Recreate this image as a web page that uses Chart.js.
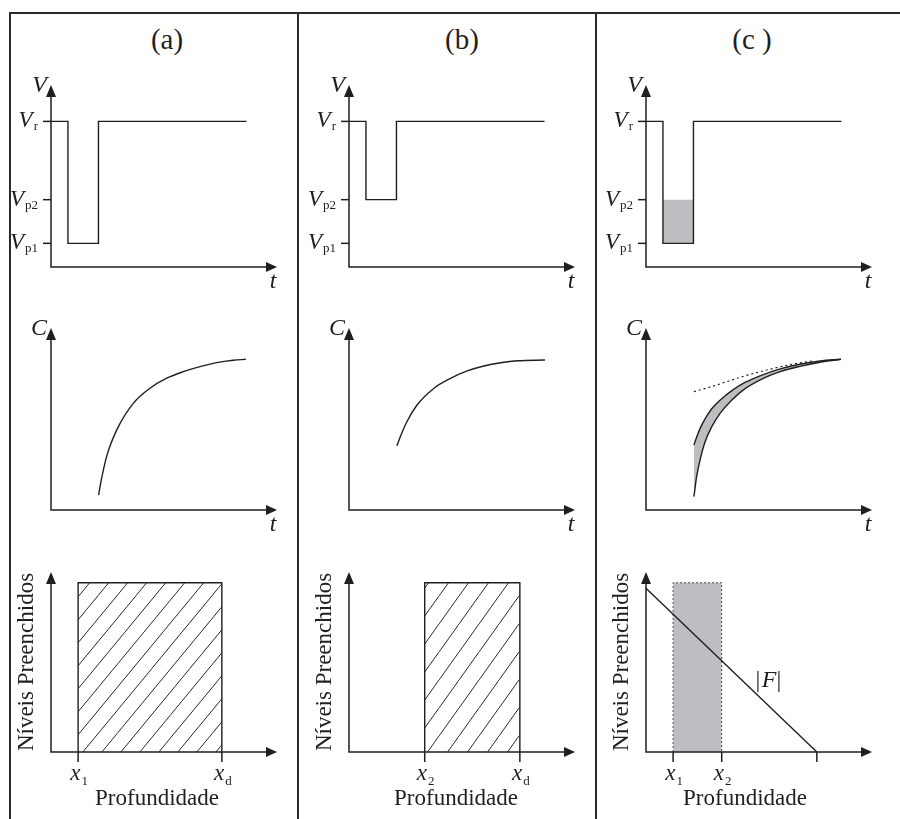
<!DOCTYPE html>
<html>
<head>
<meta charset="utf-8">
<script src="https://cdn.jsdelivr.net/npm/chart.js@4.4.0/dist/chart.umd.min.js"></script>
<style>
  body { margin: 0; background: #fff; }
  #fig { position: relative; width: 900px; height: 819px; overflow: hidden;
         font-family: "Liberation Serif", "Times New Roman", serif; color: #1f1f1f; }
  .rule { position: absolute; background: #2a2a2a; }
  .tag { position: absolute; top: 22px; width: 120px; margin-left: -60px; text-align: center;
         font-size: 29px; line-height: 34px; }
  canvas { position: absolute; }
</style>
</head>
<body>
<div id="fig">
  <div class="rule" style="left:9px;top:12px;width:891px;height:2px"></div>
  <div class="rule" style="left:9px;top:12px;width:2px;height:807px"></div>
  <div class="rule" style="left:297px;top:12px;width:2px;height:807px"></div>
  <div class="rule" style="left:595px;top:12px;width:2px;height:807px"></div>
  <div class="tag" style="left:167px">(a)</div>
  <div class="tag" style="left:462px">(b)</div>
  <div class="tag" style="left:752px">(c )</div>
</div>
<script>
// Row 1: voltage pulse (axes run 0..100 in both directions)
const vR = 80, vP2 = 37, vP1 = 13;
const pulseT = [0, 7.5, 7.5, 21, 21, 86.5];
const pulseA = [vR, vR, vP1, vP1, vR, vR];
const pulseB = [vR, vR, vP2, vP2, vR, vR];
const shadeT = [7.5, 21];
const shadeV = [vP2, vP2];

// Row 2: capacitance transients
const curveAT = [21.1, 21.7, 24.6, 29.1, 36.4, 43.8, 51.2, 58.5, 65.9, 73.3, 80.7, 86.2];
const curveAC = [8.2, 12.8, 29.3, 44, 58.6, 66.9, 72.4, 76, 78.8, 81, 82.3, 82.8];
const curveBT = [21.2, 22.7, 25.6, 30.1, 37.5, 44.9, 52.3, 59.7, 67.1, 74.5, 86.7];
const curveBC = [35.3, 40.3, 48.5, 57.7, 66.8, 72.3, 76.4, 79.1, 80.9, 82, 82.4];
const curveCT = [21.2, 22.4, 24, 26, 29, 33, 38, 44, 51, 59, 68, 77, 86.2];
const upperC = [35.7, 40, 45, 49.8, 55.5, 60.6, 65.6, 70.2, 74, 77.4, 80.1, 81.9, 82.8];
const lowerC = [7.3, 18.3, 28, 37, 45.5, 53.5, 60.5, 66.8, 71.8, 75.9, 78.9, 81.2, 82.8];
const dottedT = [21.2, 31.3, 41.6, 53.4, 65.2, 74];
const dottedC = [65, 68.7, 72.9, 76.9, 80.2, 82];

// Row 3: filled levels vs depth
const x1 = 12, x2 = 33.5, xd = 75.6;
const fillTop = 94;
const fDepth = [0, 75.6];
const fLevel = [91, 0];

// page geometry
const colLeft = [11, 299, 597], colWidth = [286, 296, 303];
const rowTop = [14, 292, 540], rowHeight = [278, 248, 279];
const axisX = [51, 349, 646], tipX = [277, 575, 872];
const arrowTop = [85, 328, 572], axisY = [267, 510, 752];

const INK = '#1f1f1f';
const GRAY = '#bdbec2';
const SERIF = '"Liberation Serif", "Times New Roman", serif';
const fig = document.getElementById('fig');

function hatch(w, h) {
  const c = document.createElement('canvas');
  c.width = w; c.height = h;
  const g = c.getContext('2d');
  g.strokeStyle = '#2a2a2a';
  g.lineWidth = 1;
  g.beginPath();
  g.moveTo(-w, 2 * h); g.lineTo(2 * w, -h);
  g.stroke();
  return g.createPattern(c, 'repeat');
}

function series(xs, ys, extra) {
  return Object.assign({
    data: xs.map((x, i) => ({ x: x, y: ys[i] })),
    clip: false, pointRadius: 0, borderColor: INK, borderWidth: 1.4, fill: false
  }, extra || {});
}

function subLabel(ctx, main, sub, x, base, align, drop) {
  ctx.font = 'italic 23px ' + SERIF;
  const wm = ctx.measureText(main).width;
  ctx.font = '13px ' + SERIF;
  const ws = ctx.measureText(sub).width;
  const w = wm + 1 + ws;
  const left = align === 'right' ? x - w : x - w / 2;
  ctx.textAlign = 'left';
  ctx.font = 'italic 23px ' + SERIF;
  ctx.fillText(main, left, base);
  ctx.font = '13px ' + SERIF;
  ctx.fillText(sub, left + wm + 1, base + drop);
}

// axes with arrowheads, ticks and labels drawn from the chart's own scales
function sketchAxes(deco) {
  return {
    id: 'sketchAxes',
    afterDatasetsDraw(chart) {
      const ctx = chart.ctx, a = chart.chartArea;
      const sx = chart.scales.x, sy = chart.scales.y;
      ctx.save();
      ctx.strokeStyle = INK; ctx.fillStyle = INK; ctx.lineWidth = 1.5;
      ctx.textBaseline = 'alphabetic';
      ctx.beginPath();
      ctx.moveTo(a.left, a.top + 10);
      ctx.lineTo(a.left, a.bottom);
      ctx.lineTo(a.right - 8, a.bottom);
      ctx.stroke();
      ctx.beginPath();
      ctx.moveTo(a.left, a.top); ctx.lineTo(a.left - 5, a.top + 12); ctx.lineTo(a.left + 5, a.top + 12);
      ctx.closePath(); ctx.fill();
      ctx.beginPath();
      ctx.moveTo(a.right, a.bottom); ctx.lineTo(a.right - 11, a.bottom - 5); ctx.lineTo(a.right - 11, a.bottom + 5);
      ctx.closePath(); ctx.fill();

      (deco.yTicks || []).forEach(t => {
        const py = sy.getPixelForValue(t[0]);
        ctx.beginPath(); ctx.moveTo(a.left - 8, py); ctx.lineTo(a.left, py); ctx.stroke();
        subLabel(ctx, 'V', t[1], a.left - 13, py + 6, 'right', 3);
      });
      (deco.xTicks || []).forEach(t => {
        const px = sx.getPixelForValue(t[0]);
        ctx.beginPath(); ctx.moveTo(px, a.bottom); ctx.lineTo(px, a.bottom + 10); ctx.stroke();
        if (t[1]) subLabel(ctx, 'x', t[1], px + 1, a.bottom + 28, 'center', 5);
      });
      if (deco.yName) {
        ctx.font = 'italic 24px ' + SERIF; ctx.textAlign = 'right';
        ctx.fillText(deco.yName, a.left - 4, a.top + 7);
      }
      if (deco.xName) {
        ctx.font = 'italic 24px ' + SERIF; ctx.textAlign = 'center';
        ctx.fillText(deco.xName, a.right - 4, a.bottom + 21);
      }
      if (deco.yTitle) {
        ctx.save();
        ctx.translate(a.left - 24, (a.top + a.bottom) / 2);
        ctx.rotate(-Math.PI / 2);
        ctx.font = '23px ' + SERIF; ctx.textAlign = 'center'; ctx.textBaseline = 'middle';
        ctx.fillText(deco.yTitle, 0, 0);
        ctx.restore();
      }
      if (deco.xTitle) {
        ctx.font = '23px ' + SERIF; ctx.textAlign = 'center';
        ctx.fillText(deco.xTitle, a.left + deco.titleDx, a.bottom + 53);
      }
      if (deco.fLabel) {
        const px = a.left + 122, base = a.top + 115;
        ctx.font = '24px ' + SERIF; ctx.textAlign = 'center';
        ctx.fillText('|', px - 10, base);
        ctx.fillText('|', px + 11, base);
        ctx.font = 'italic 24px ' + SERIF;
        ctx.fillText('F', px + 1, base);
      }
      ctx.restore();
    }
  };
}

function panel(col, row, datasets, deco) {
  const cv = document.createElement('canvas');
  const L = colLeft[col], T = rowTop[row], W = colWidth[col], H = rowHeight[row];
  cv.width = W; cv.height = H;
  cv.style.left = L + 'px'; cv.style.top = T + 'px';
  cv.style.width = W + 'px'; cv.style.height = H + 'px';
  fig.appendChild(cv);
  new Chart(cv, {
    type: 'line',
    data: { datasets: datasets },
    options: {
      responsive: false, animation: false, devicePixelRatio: 1, events: [],
      layout: { padding: { left: axisX[col] - L, right: L + W - tipX[col],
                           top: arrowTop[row] - T, bottom: T + H - axisY[row] } },
      scales: {
        x: { type: 'linear', min: 0, max: 100, display: false },
        y: { type: 'linear', min: 0, max: 100, display: false }
      },
      plugins: { legend: { display: false }, tooltip: { enabled: false },
                 filler: { drawTime: 'beforeDatasetsDraw' } }
    },
    plugins: [sketchAxes(deco)]
  });
}

const vTicks = [[vR, 'r'], [vP2, 'p2'], [vP1, 'p1']];

// row 1
panel(0, 0, [series(pulseT, pulseA)], { yName: 'V', xName: 't', yTicks: vTicks });
panel(1, 0, [series(pulseT, pulseB)], { yName: 'V', xName: 't', yTicks: vTicks });
panel(2, 0, [
  series(pulseT, pulseA),
  series(shadeT, shadeV, { borderWidth: 0, fill: { value: vP1 }, backgroundColor: GRAY })
], { yName: 'V', xName: 't', yTicks: vTicks });

// row 2
panel(0, 1, [series(curveAT, curveAC, { cubicInterpolationMode: 'monotone' })], { yName: 'C', xName: 't' });
panel(1, 1, [series(curveBT, curveBC, { cubicInterpolationMode: 'monotone' })], { yName: 'C', xName: 't' });
panel(2, 1, [
  series(curveCT, upperC, { cubicInterpolationMode: 'monotone', fill: '+1', backgroundColor: GRAY }),
  series(curveCT, lowerC, { cubicInterpolationMode: 'monotone' }),
  series(dottedT, dottedC, { cubicInterpolationMode: 'monotone', borderWidth: 1.2, borderDash: [2, 3] })
], { yName: 'C', xName: 't' });

// row 3
const rectX = (a, b) => [a, a, b, b];
const rectY = [0, fillTop, fillTop, 0];
panel(0, 2, [series(rectX(x1, xd), rectY, { fill: 'origin', backgroundColor: hatch(19, 23) })],
  { yTitle: 'Níveis Preenchidos', xTitle: 'Profundidade', titleDx: 106, xTicks: [[x1, '1'], [xd, 'd']] });
panel(1, 2, [series(rectX(x2, xd), rectY, { fill: 'origin', backgroundColor: hatch(20, 28) })],
  { yTitle: 'Níveis Preenchidos', xTitle: 'Profundidade', titleDx: 107, xTicks: [[x2, '2'], [xd, 'd']] });
panel(2, 2, [
  series(fDepth, fLevel),
  series(rectX(x1, x2), rectY, { fill: 'origin', backgroundColor: GRAY, borderColor: '#444',
                                 borderWidth: 1, borderDash: [2, 2] })
], { yTitle: 'Níveis Preenchidos', xTitle: 'Profundidade', titleDx: 99, fLabel: true,
     xTicks: [[x1, '1'], [x2, '2'], [fDepth[1], '']] });
</script>
</body>
</html>
